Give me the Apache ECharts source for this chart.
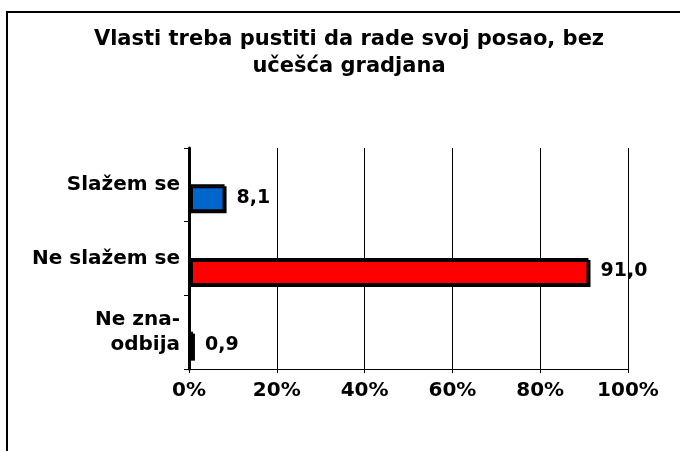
<!DOCTYPE html>
<html>
<head>
<meta charset="utf-8">
<script src="https://cdn.jsdelivr.net/npm/echarts@6/dist/echarts.min.js"></script>
<style>
  html, body { margin: 0; padding: 0; background: #fff; }
  #chart { width: 680px; height: 451px; }
</style>
</head>
<body>
<div id="chart"></div>
<script>
  const categories = ['Slažem se', 'Ne slažem se', 'Ne zna-\nodbija']
  const values = [8.1, 91.0, 0.9]
  const barColors = ['#0066cc', '#ff0000', '#ffffff']
  const xTicks = [0, 20, 40, 60, 80, 100]

  const font = '"DejaVu Sans", sans-serif'

  const chart = echarts.init(document.getElementById('chart'))
  chart.setOption({
    animation: false,
    title: {
      text: 'Vlasti treba pustiti da rade svoj posao, bez\nučešća gradjana',
      left: 344,
      textAlign: 'center',
      top: 21,
      textStyle: {
        fontFamily: font,
        fontSize: 21,
        fontWeight: 'bold',
        color: '#000',
        lineHeight: 27
      }
    },
    graphic: [
      {
        type: 'rect',
        shape: { x: 7, y: 12, width: 700, height: 460 },
        style: { fill: 'none', stroke: '#000', lineWidth: 2 }
      }
    ],
    grid: { left: 189, right: 52, top: 148, bottom: 82 },
    xAxis: {
      type: 'value',
      min: xTicks[0],
      max: xTicks[xTicks.length - 1],
      interval: 20,
      axisLine: { show: true, lineStyle: { color: '#000', width: 1 } },
      axisTick: { show: true, length: 4, lineStyle: { color: '#000' } },
      splitLine: { show: true, lineStyle: { color: '#000', width: 1 } },
      axisLabel: {
        formatter: '{value}%',
        margin: 12,
        color: '#000',
        fontFamily: font,
        fontSize: 20,
        fontWeight: 'bold'
      }
    },
    yAxis: {
      type: 'category',
      inverse: true,
      data: categories,
      axisLine: { show: true, lineStyle: { color: '#000', width: 3 } },
      axisTick: { show: true, length: 5, lineStyle: { color: '#000', width: 1 } },
      axisLabel: {
        margin: 9,
        color: '#000',
        fontFamily: font,
        fontSize: 20,
        fontWeight: 'bold',
        lineHeight: 25
      }
    },
    series: [
      { // spacer so the bars sit below the category centre
        type: 'bar',
        barWidth: 26,
        barGap: 0,
        silent: true,
        data: values.map(() => 0),
        itemStyle: { color: 'transparent' }
      },
      {
        type: 'bar',
        barWidth: 27,
        barGap: 0,
        data: values.map((v, i) => ({
          value: v,
          itemStyle: { color: barColors[i] }
        })),
        itemStyle: {
          borderColor: '#000',
          borderWidth: 2,
          shadowColor: '#000',
          shadowOffsetX: 2,
          shadowOffsetY: 2,
          shadowBlur: 0
        },
        label: {
          show: true,
          position: 'right',
          distance: 12,
          formatter: p => p.value.toFixed(1).replace('.', ','),
          color: '#000',
          fontFamily: font,
          fontSize: 19,
          fontWeight: 'bold'
        }
      }
    ]
  })
</script>
</body>
</html>
